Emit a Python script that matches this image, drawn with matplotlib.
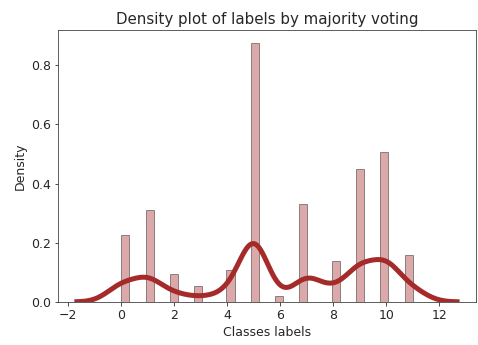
import numpy as np
import matplotlib
matplotlib.use("Agg")
import matplotlib.pyplot as plt
import seaborn as sns

# class labels and the density
classes = [0, 1, 2, 3, 4, 5, 6, 7, 8, 9, 10, 11]
density = [0.226, 0.309, 0.095, 0.053, 0.109, 0.872, 0.019, 0.330, 0.137, 0.449, 0.504, 0.158]

plt.rcParams.update({
    "font.size": 12.5,
    "text.color": "#262626",
    "axes.labelcolor": "#262626",
    "xtick.color": "#262626",
    "ytick.color": "#262626",
    "axes.edgecolor": "#3a3a3a",
})

fig, ax = plt.subplots(figsize=(478 / 72, 345 / 72), dpi=72)
fig.subplots_adjust(left=0.121, right=0.996, top=0.913, bottom=0.125)

ax.hist(classes, bins=36, range=(0, 11), weights=density, density=True,
        color="brown", edgecolor="black", alpha=0.4, linewidth=1)
sns.kdeplot(x=classes, weights=density, bw_method=0.155, color="brown",
            linewidth=5, ax=ax)

ax.set_title("Density plot of labels by majority voting", fontsize=15)
ax.set_xlabel("Classes labels")
ax.set_ylabel("Density")
ax.set_xticks([-2, 0, 2, 4, 6, 8, 10, 12])
ax.set_yticks([0.0, 0.2, 0.4, 0.6, 0.8])

plt.savefig("out.png", dpi=72)
